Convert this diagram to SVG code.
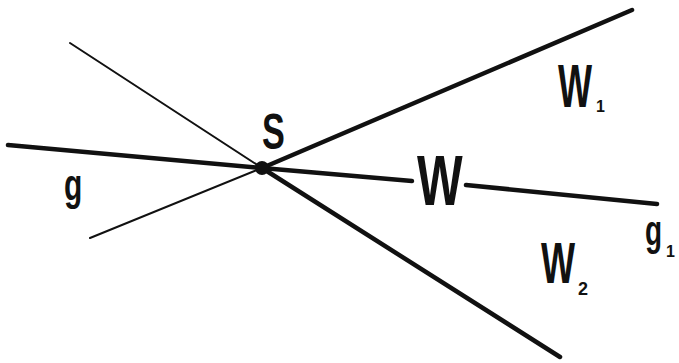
<svg xmlns="http://www.w3.org/2000/svg" width="679" height="363" viewBox="0 0 679 363">
<style>
.thick{stroke:#111;stroke-width:4.5;stroke-linecap:round;fill:none}
.thin{stroke:#111;stroke-width:2;stroke-linecap:round;fill:none}
.lbl{font-family:"Liberation Sans",Arial,sans-serif;fill:#111;font-weight:bold}
</style>
<rect width="679" height="363" fill="#fff"/>
<g id="connectors">
<line class="thick" x1="8" y1="145" x2="262" y2="168"/>
<line class="thick" x1="262" y1="168" x2="412" y2="181"/>
<line class="thick" x1="466" y1="185" x2="657" y2="204"/>
<line class="thin" x1="70" y1="43" x2="262" y2="168"/>
<line class="thin" x1="90" y1="238" x2="262" y2="168"/>
<line class="thick" x1="262" y1="168" x2="632" y2="10"/>
<line class="thick" x1="262" y1="168" x2="560" y2="357"/>
</g>
<g id="S">
<circle cx="262" cy="168" r="7" fill="#111"/>
<text class="lbl" font-size="38" transform="translate(262,149) scale(0.9,1.3)">S</text>
</g>
<g id="W"><text class="lbl" font-size="44" transform="translate(417,205) scale(1.1,1.6)">W</text></g>
<g id="W1"><text class="lbl" font-size="38" transform="translate(558,107) scale(0.95,1.6)">W</text><text class="lbl" font-size="16" x="596" y="112">1</text></g>
<g id="W2"><text class="lbl" font-size="38" transform="translate(541,283) scale(0.95,1.5)">W</text><text class="lbl" font-size="18" x="578" y="295">2</text></g>
<g id="g"><text class="lbl" font-size="30" transform="translate(64,200) scale(1,1.5)">g</text></g>
<g id="g1"><text class="lbl" font-size="28" transform="translate(645,245) scale(1,1.5)">g</text><text class="lbl" font-size="16" x="666" y="257">1</text></g>
</svg>
